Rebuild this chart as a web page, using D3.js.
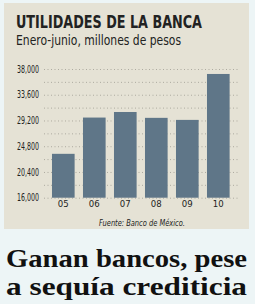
<!DOCTYPE html>
<html>
<head>
<meta charset="utf-8">
<script src="https://cdn.jsdelivr.net/npm/d3@7"></script>
<style>
  body { margin: 0; background: #edf5f6; }
  svg { display: block; }
</style>
</head>
<body>
<div id="chart"></div>
<script>
var years = ["05", "06", "07", "08", "09", "10"];
var utilidades = [23500, 29700, 30650, 29650, 29300, 37150];
var tickValues = [16000, 20400, 24800, 29200, 33600, 38000];
var gridValues = [16000, 18200, 20400, 22600, 24800, 27000, 29200, 31400, 33600, 35800, 38000];

var width = 255, height = 304;
var cond = "'Liberation Sans Narrow', 'DejaVu Sans Condensed', 'Roboto', sans-serif";

var svg = d3.select("#chart").append("svg")
  .attr("width", width).attr("height", height);

// beige panel
svg.append("rect")
  .attr("x", 4).attr("y", 3)
  .attr("width", 245).attr("height", 226)
  .attr("fill", "#e5e2d5");

svg.append("text")
  .attr("x", 16).attr("y", 28)
  .attr("textLength", 186).attr("lengthAdjust", "spacingAndGlyphs")
  .style("font-family", cond).style("font-weight", "bold").style("font-size", "17.5px")
  .attr("fill", "#222")
  .text("UTILIDADES DE LA BANCA");

svg.append("text")
  .attr("x", 16).attr("y", 45)
  .attr("textLength", 165).attr("lengthAdjust", "spacingAndGlyphs")
  .style("font-family", cond).style("font-size", "14px")
  .attr("fill", "#222")
  .text("Enero-junio, millones de pesos");

var xScale = d3.scaleBand()
  .domain(years)
  .range([47.8, 233.8])
  .paddingInner(0.27).paddingOuter(0.135);

var yScale = d3.scaleLinear()
  .domain([16000, 38000])
  .range([197.7, 69]);

// dotted gridlines
svg.append("g").selectAll("line").data(gridValues).enter().append("line")
  .attr("x1", 44).attr("x2", 240)
  .attr("y1", function(d) { return yScale(d) + 0.5; })
  .attr("y2", function(d) { return yScale(d) + 0.5; })
  .attr("stroke", "#9e9c92")
  .attr("stroke-width", 0.8)
  .attr("stroke-dasharray", "1,2.5");

svg.append("g").selectAll("rect").data(utilidades).enter().append("rect")
  .attr("x", function(d, i) { return xScale(years[i]); })
  .attr("y", function(d) { return yScale(d); })
  .attr("width", xScale.bandwidth())
  .attr("height", function(d) { return yScale(16000) - yScale(d); })
  .attr("fill", "#5f7688");

var yAxis = d3.axisLeft(yScale)
  .tickValues(tickValues)
  .tickFormat(d3.format(","))
  .tickSize(0).tickPadding(0);
var gy = svg.append("g").attr("transform", "translate(39,0)").call(yAxis);
gy.select(".domain").remove();
gy.selectAll("text")
  .style("font-family", cond).style("font-size", "10px")
  .attr("fill", "#222")
  .attr("textLength", 22).attr("lengthAdjust", "spacingAndGlyphs");

var xAxis = d3.axisBottom(xScale).tickSize(0).tickPadding(0);
var gx = svg.append("g").attr("transform", "translate(0,200)").call(xAxis);
gx.select(".domain").remove();
gx.selectAll("text")
  .style("font-family", cond).style("font-size", "9.5px")
  .attr("fill", "#222")
  .attr("dy", "0.75em");

svg.append("text")
  .attr("x", 142).attr("y", 225.5)
  .attr("text-anchor", "middle")
  .attr("textLength", 86).attr("lengthAdjust", "spacingAndGlyphs")
  .style("font-family", cond).style("font-style", "italic").style("font-size", "9.5px")
  .attr("fill", "#222")
  .text("Fuente: Banco de México.");

// headline
var headline = ["Ganan bancos, pese", "a sequía crediticia"];
svg.selectAll("text.headline").data(headline).enter().append("text")
  .attr("class", "headline")
  .attr("x", 6)
  .attr("y", function(d, i) { return 266.5 + i * 28; })
  .attr("textLength", 241).attr("lengthAdjust", "spacingAndGlyphs")
  .style("font-family", "'Liberation Serif', 'DejaVu Serif', serif")
  .style("font-weight", "bold").style("font-size", "25px")
  .attr("fill", "#111")
  .text(function(d) { return d; });
</script>
</body>
</html>
